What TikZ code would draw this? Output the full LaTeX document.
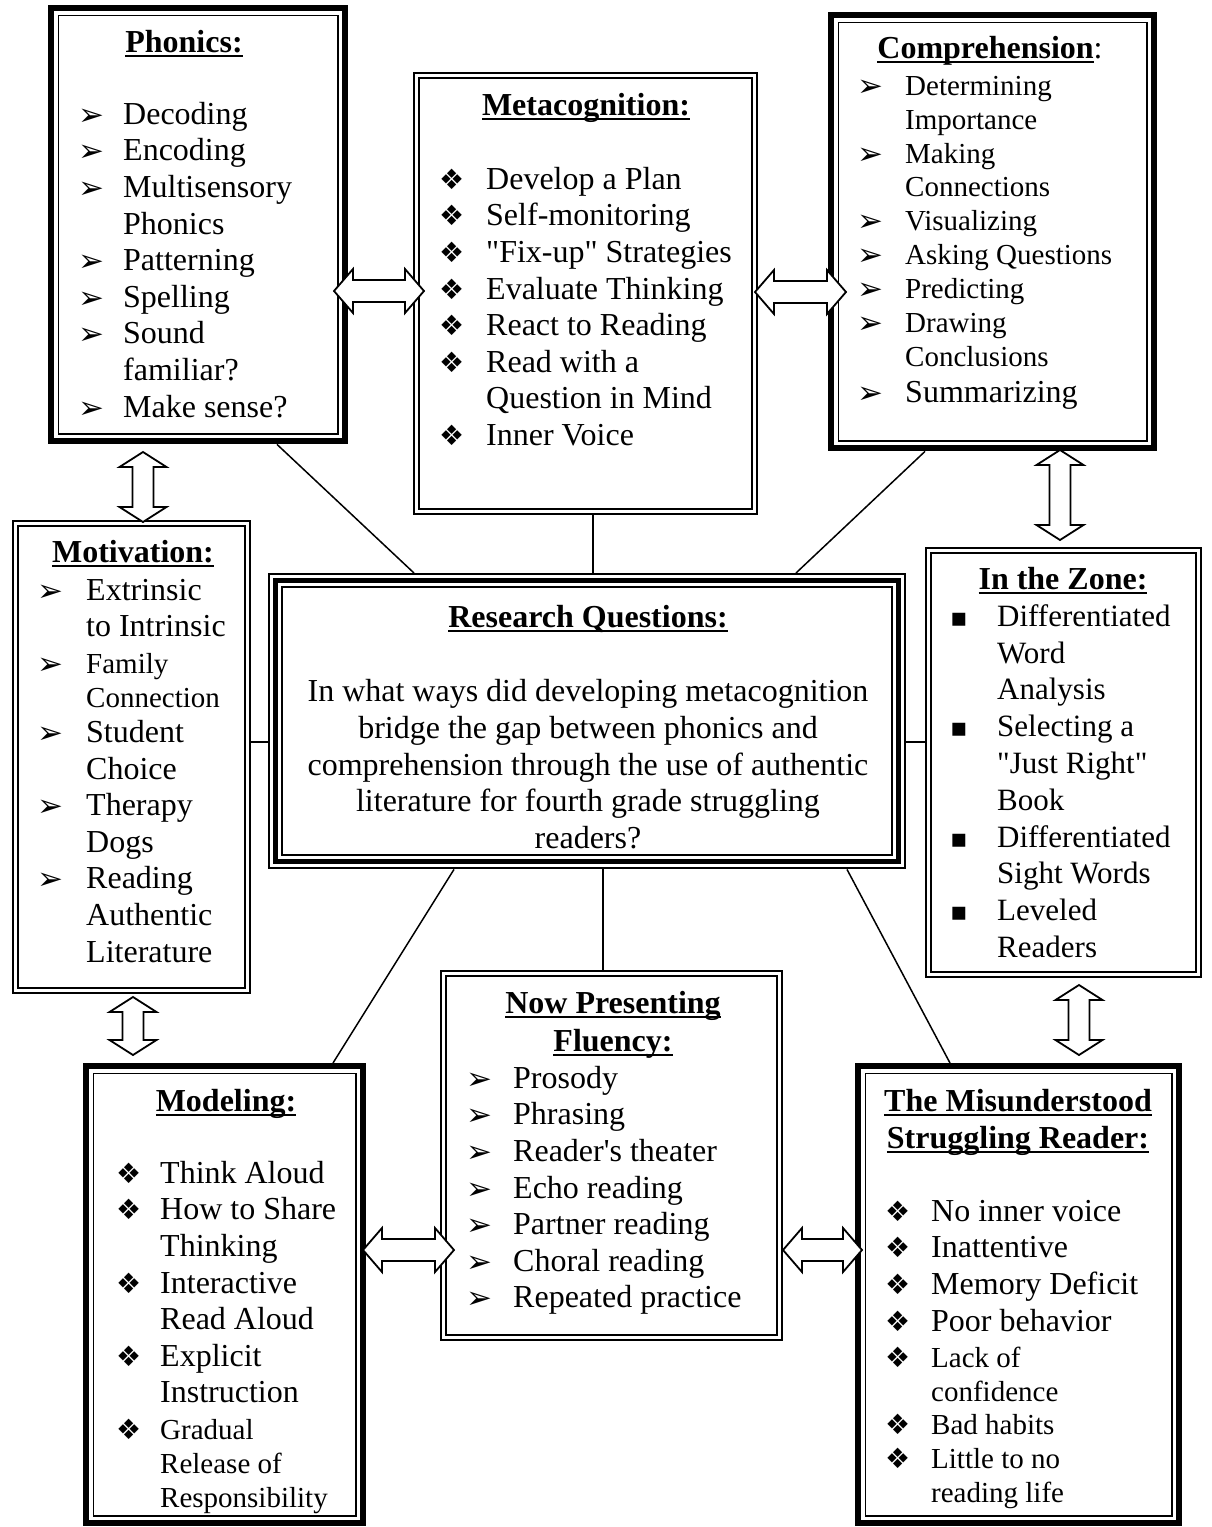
\documentclass[tikz,border=0pt]{standalone}
\usepackage{fontspec}
\setmainfont{Liberation Serif}[Ligatures=TeXOff]
\newfontfamily\djv{DejaVu Sans}
\usetikzlibrary{calc}
\newcommand\myul[1]{\setbox0\hbox{#1}\rlap{\rule[-4.5pt]{\wd0}{1.6pt}}\box0}
\newcommand\T[1]{\myul{\textbf{#1}}}
\newcommand\arr{{\djv\fontsize{31}{31}\selectfont\raisebox{-1pt}{➢}}}
\newcommand\dia{{\djv\fontsize{28}{28}\selectfont ❖}}
\newcommand\sq{{\djv\fontsize{26}{26}\selectfont ▪}}
\newcommand\ba[1]{\makebox[#1pt][l]{\arr}}
\newcommand\bd[1]{\makebox[#1pt][l]{\dia}}
\newcommand\bs[1]{\makebox[#1pt][l]{\sq}}
\newcommand\myind[1]{\hspace*{#1pt}}
\newcommand\fst{\rule{0pt}{26pt}}
\newcommand\sm{\fontsize{29}{33.9}\selectfont}
\newcommand\thickthin[1]{%
  \draw[line width=6pt] ([shift={(3,3)}]#1.north west) rectangle ([shift={(-3,-3)}]#1.south east);
  \draw[line width=1.5pt] ([shift={(10.5,10.5)}]#1.north west) rectangle ([shift={(-10.5,-10.5)}]#1.south east);}
\newcommand\dbl[1]{%
  \draw[line width=2pt] ([shift={(1,1)}]#1.north west) rectangle ([shift={(-1,-1)}]#1.south east);
  \draw[line width=2pt] ([shift={(6,6)}]#1.north west) rectangle ([shift={(-6,-6)}]#1.south east);}
\newcommand\triple[1]{%
  \draw[line width=2pt] ([shift={(1,1)}]#1.north west) rectangle ([shift={(-1,-1)}]#1.south east);
  \draw[line width=5pt] ([shift={(7.5,7.5)}]#1.north west) rectangle ([shift={(-7.5,-7.5)}]#1.south east);
  \draw[line width=2pt] ([shift={(14,14)}]#1.north west) rectangle ([shift={(-14,-14)}]#1.south east);}
\newcommand\harr[3]{\draw[barr] (#1,#3) -- ++(19,-22) -- ++(0,11) -- ({#2-19},{#3-11}) -- ++(0,-11) -- (#2,#3) -- ++(-19,22) -- ++(0,-11) -- ({#1+19},{#3+11}) -- ++(0,11) -- cycle;}
\newcommand\varr[3]{\draw[barr] (#1,#2) -- ++(23.5,15) -- ++(-13,0) -- ({#1+10.5},{#3-15}) -- ++(13,0) -- (#1,#3) -- ++(-23.5,-15) -- ++(13,0) -- ({#1-10.5},{#2+15}) -- ++(-13,0) -- cycle;}
\begin{document}
\begin{tikzpicture}[x=1pt,y=-1pt,
  box/.style={draw=none,inner sep=0,anchor=north west},
  ttl/.style={anchor=base,inner sep=0,font=\fontsize{32}{36.6}\selectfont},
  lst/.style={anchor=north west,inner sep=0,align=left,font=\fontsize{32}{36.6}\selectfont},
  conn/.style={line width=1.5pt},
  barr/.style={draw,line width=1.8pt,fill=white,line join=miter}]
\useasboundingbox (0,0) rectangle (1211,1527);
\fill[white] (0,0) rectangle (1211,1527);

% boxes
\node[box,minimum width=300,minimum height=439] (phon) at (48,5) {};
\node[box,minimum width=345,minimum height=443] (meta) at (413,72) {};
\node[box,minimum width=329,minimum height=439] (comp) at (828,12) {};
\node[box,minimum width=239,minimum height=474] (mot) at (12,520) {};
\node[box,minimum width=277,minimum height=431] (zone) at (925,547) {};
\node[box,minimum width=638,minimum height=296] (rq) at (268,573) {};
\node[box,minimum width=343,minimum height=371] (flu) at (440,970) {};
\node[box,minimum width=283,minimum height=463] (mod) at (83,1063) {};
\node[box,minimum width=327,minimum height=463] (mis) at (855,1063) {};

% connectors
\draw[conn] ([xshift=229]phon.south west) -- ([xshift=146]rq.north west);
\draw[conn] ([xshift=180]meta.south west) -- ([xshift=325]rq.north west);
\draw[conn] ([xshift=97]comp.south west) -- ([xshift=528]rq.north west);
\coordinate (h1) at ([yshift=-21]rq.west);
\draw[conn] (h1) -- (h1 -| mot.east);
\draw[conn] (h1 -| rq.east) -- (h1 -| zone.west);
\draw[conn] ([xshift=186]rq.south west) -- ([xshift=250]mod.north west);
\draw[conn] ([xshift=335]rq.south west) -- ([xshift=335]rq.south west |- flu.north);
\draw[conn] ([xshift=579]rq.south west) -- ([xshift=95]mis.north west);

% borders
\thickthin{phon}
\dbl{meta}
\thickthin{comp}
\dbl{mot}
\dbl{zone}
\triple{rq}
\dbl{flu}
\thickthin{mod}
\thickthin{mis}

% block arrows
\harr{334}{424}{291}
\harr{755}{846}{292}
\harr{363}{454}{1250}
\harr{783}{862}{1250}
\varr{143}{452}{522}
\varr{1060}{450}{540}
\varr{133}{997}{1055}
\varr{1079}{985}{1055}

% Phonics
\node[ttl] (phon-t) at (184,52) {\T{Phonics:}};
\node[lst] (phon-l) at (78,98) {\fst\ba{45}Decoding\\
\ba{45}Encoding\\
\ba{45}Multisensory\\
\myind{45}Phonics\\
\ba{45}Patterning\\
\ba{45}Spelling\\
\ba{45}Sound\\
\myind{45}familiar?\\
\ba{45}Make sense?};

% Metacognition
\node[ttl] (meta-t) at (586,115) {\T{Metacognition:}};
\node[lst] (meta-l) at (439,163) {\fst\bd{47}Develop a Plan\\
\bd{47}Self-monitoring\\
\bd{47}"Fix-up" Strategies\\
\bd{47}Evaluate Thinking\\
\bd{47}React to Reading\\
\bd{47}Read with a\\
\myind{47}Question in Mind\\
\bd{47}Inner Voice};

% Comprehension
\node[ttl] (comp-t) at (990,58) {\T{Comprehension}:};
\node[lst,font=\sm] (comp-l) at (857,69) {\fst\ba{48}Determining\\
\myind{48}Importance\\
\ba{48}Making\\
\myind{48}Connections\\
\ba{48}Visualizing\\
\ba{48}Asking Questions\\
\ba{48}Predicting\\
\ba{48}Drawing\\
\myind{48}Conclusions\\[2pt]
{\fontsize{32}{36}\selectfont\ba{48}Summarizing}};

% Motivation
\node[ttl] (mot-t) at (133,562) {\T{Motivation:}};
\node[lst] (mot-l) at (37,574) {\fst\ba{49}Extrinsic\\
\myind{49}to Intrinsic\\
{\sm\ba{49}Family}\\[-2.6pt]
{\sm\myind{49}Connection}\\[-1.6pt]
\ba{49}Student\\
\myind{49}Choice\\
\ba{49}Therapy\\
\myind{49}Dogs\\
\ba{49}Reading\\
\myind{49}Authentic\\
\myind{49}Literature};

% In the Zone
\node[ttl] (zone-t) at (1063,589) {\T{In the Zone:}};
\node[lst,font=\fontsize{31}{36.8}\selectfont] (zone-l) at (950,600) {\fst\bs{47}Differentiated\\
\myind{47}Word\\
\myind{47}Analysis\\
\bs{47}Selecting a\\
\myind{47}"Just Right"\\
\myind{47}Book\\
\bs{47}Differentiated\\
\myind{47}Sight Words\\
\bs{47}Leveled\\
\myind{47}Readers};

% Research Questions
\node[ttl] (rq-t) at (588,627) {\T{Research Questions:}};
\node[lst,align=center,anchor=north,font=\fontsize{32}{36.9}\selectfont] (rq-l) at (588,675) {\fst In what ways did developing metacognition\\
bridge the gap between phonics and\\
comprehension through the use of authentic\\
literature for fourth grade struggling\\
readers?};

% Fluency
\node[ttl] (flu-t1) at (613,1013) {\T{Now Presenting}};
\node[ttl] (flu-t2) at (613,1051) {\T{Fluency:}};
\node[lst] (flu-l) at (466,1062) {\fst\ba{47}Prosody\\
\ba{47}Phrasing\\
\ba{47}Reader's theater\\
\ba{47}Echo reading\\
\ba{47}Partner reading\\
\ba{47}Choral reading\\
\ba{47}Repeated practice};

% Modeling
\node[ttl] (mod-t) at (226,1111) {\T{Modeling:}};
\node[lst] (mod-l) at (116,1157) {\fst\bd{44}Think Aloud\\
\bd{44}How to Share\\
\myind{44}Thinking\\
\bd{44}Interactive\\
\myind{44}Read Aloud\\
\bd{44}Explicit\\
\myind{44}Instruction\\
{\sm\bd{44}Gradual}\\[-2.7pt]
{\sm\myind{44}Release of}\\[-2.7pt]
{\sm\myind{44}Responsibility}};

% Misunderstood
\node[ttl] (mis-t1) at (1018,1111) {\T{The Misunderstood}};
\node[ttl] (mis-t2) at (1018,1148) {\T{Struggling Reader:}};
\node[lst] (mis-l) at (885,1195) {\fst\bd{46}No inner voice\\
\bd{46}Inattentive\\
\bd{46}Memory Deficit\\
\bd{46}Poor behavior\\
{\sm\bd{46}Lack of}\\[-3pt]
{\sm\myind{46}confidence}\\[-3pt]
{\sm\bd{46}Bad habits}\\[-3pt]
{\sm\bd{46}Little to no}\\[-3pt]
{\sm\myind{46}reading life}};
\end{tikzpicture}
\end{document}
